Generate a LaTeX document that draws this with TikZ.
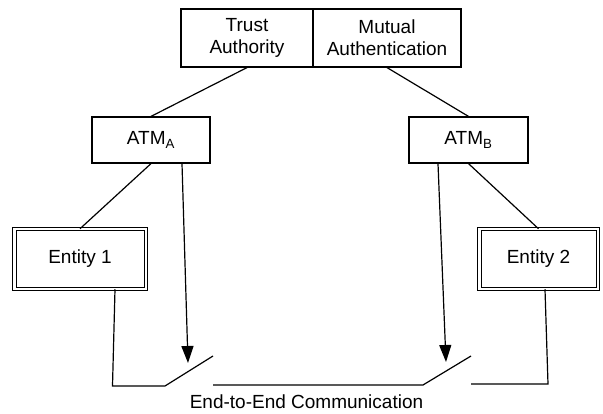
\documentclass[tikz,border=0pt]{standalone}
\usepackage{fontspec}
\setmainfont{Liberation Sans}
\usetikzlibrary{arrows.meta}

\begin{document}
\begin{tikzpicture}[x=1pt,y=1pt,font=\fontsize{19}{22}\selectfont,line width=1.2pt]
\tikzset{box/.style={draw,inner sep=0pt,minimum height=46pt,align=center},
ebox/.style={draw,double,double distance=2.5pt,line width=1pt,inner sep=0pt,
minimum height=59.5pt},
ctrl/.style={-{Triangle[width=12pt,length=17pt]}}}
\useasboundingbox (0,0) rectangle (603,413);
\node[box,minimum width=132pt,minimum height=58pt] (ta) at (247,375) {Trust\\Authority};
\node[box,minimum width=148pt,minimum height=58pt] (ma) at (387,375) {Mutual\\Authentication};
\node[box,minimum width=118pt] (atma) at (151,273) {ATM\textsubscript{A}};
\node[box,minimum width=119pt] (atmb) at (468.5,273) {ATM\textsubscript{B}};
\node[ebox,minimum width=131.5pt] (ent1) at (80,154) {Entity 1};
\node[ebox,minimum width=118.5pt] (ent2) at (538.5,154) {Entity 2};
\node (e2e) at (306.5,11) {End-to-End Communication};
% switch points
\coordinate (tipa) at (188,50);
\coordinate (tipb) at (446,51);
\coordinate (swa) at (213,57);
\coordinate (swb) at (471,57);
\draw (ta.south)--(atma.north);
\draw (ma.south)--(atmb.north);
\draw (atma.south)--(ent1.north);
\draw (atmb.south)--(ent2.north);
\draw[ctrl] ([xshift=31pt]atma.south)--(tipa);
\draw[ctrl] ([xshift=-30.5pt]atmb.south)--(tipb);
\draw ([xshift=35pt]ent1.south)--(112.5,27)--(165,27)--(swa);
\draw (213,28)--(423,28)--(swb);
\draw (471,29)--(548,29)--([xshift=6.5pt]ent2.south);
\end{tikzpicture}
\end{document}
